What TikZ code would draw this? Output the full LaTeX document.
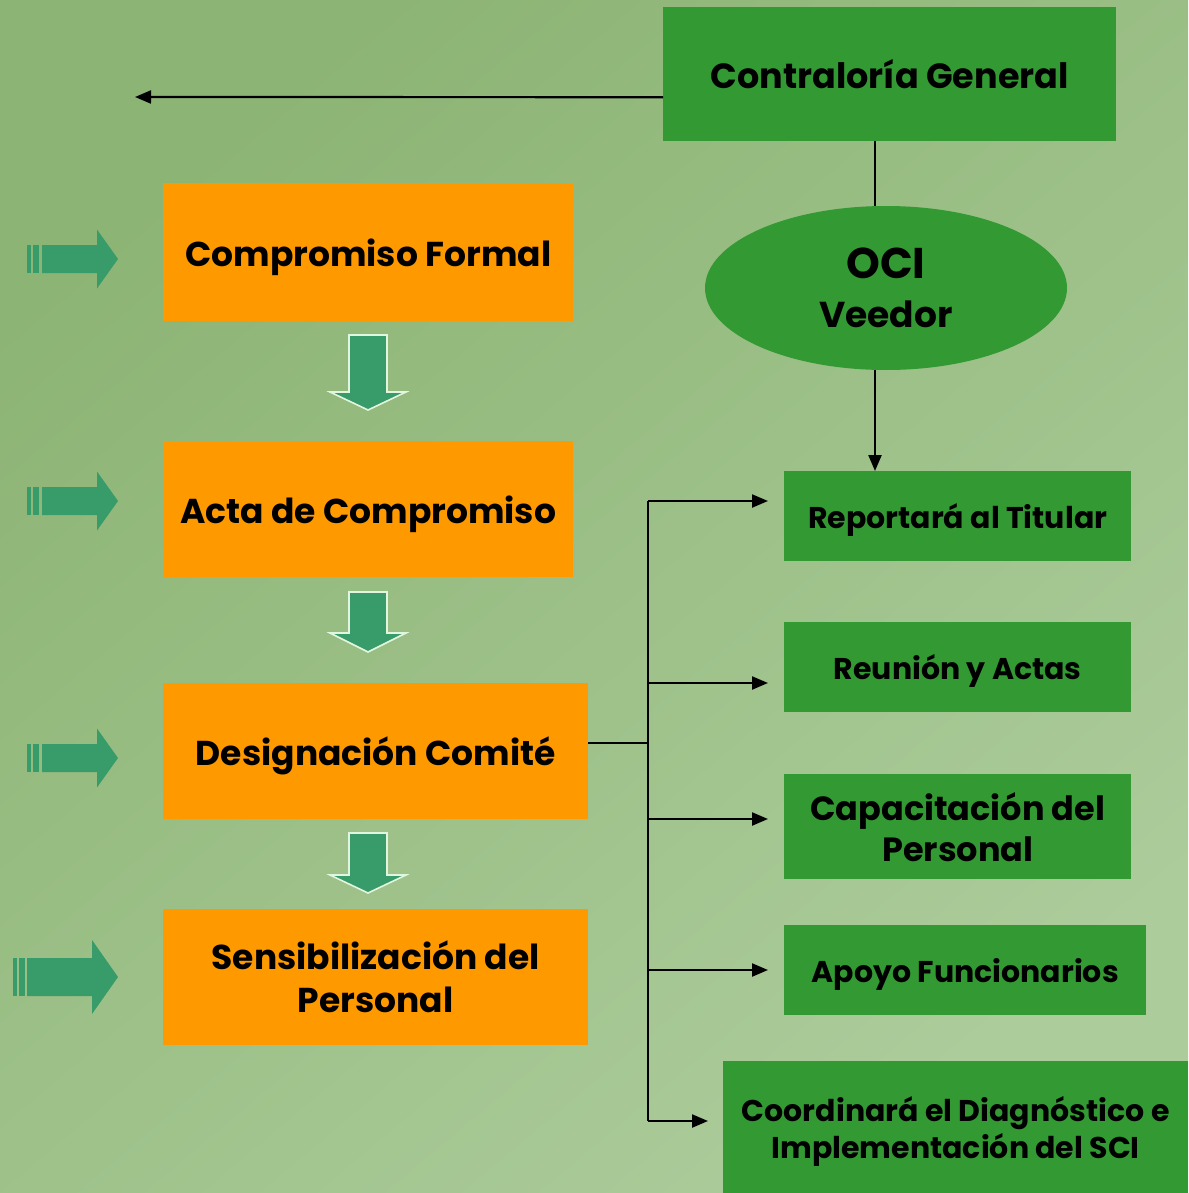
\documentclass[tikz,border=0pt]{standalone}
\usepackage{fontspec}
\setmainfont{Poppins}
\usetikzlibrary{arrows.meta,calc,shapes.geometric}
\definecolor{bgA}{HTML}{8CB474}
\definecolor{bgB}{HTML}{ACCC9B}
\definecolor{boxgreen}{HTML}{339933}
\definecolor{boxorange}{HTML}{FF9900}
\definecolor{arrgreen}{HTML}{379B6A}
\definecolor{arredge}{HTML}{E2F5DF}
\tikzset{
  stepbox/.style={fill=boxorange, draw=none, anchor=north west, align=center,
    font=\bfseries\fontsize{34.5}{43}\selectfont, inner sep=0pt},
  taskbox/.style={fill=boxgreen, draw=none, anchor=north west, align=center,
    font=\bfseries\fontsize{30}{38}\selectfont, inner sep=0pt},
  oneline/.style={text depth=0pt},
  link/.style={draw=black, line width=2.2pt},
  arr/.style={link, -{Triangle[length=16pt,width=13pt]}},
  downarr/.style={fill=arrgreen, draw=arredge, line width=1.6pt, line join=miter},
  sidearr/.style={fill=arrgreen, draw=none}
}
% horizontal striped arrow: #1 y centre, #2 stripe-1 x, #3 body x, #4 head x, #5 half body, #6 half head
\newcommand{\stripedarrow}[6]{%
  \fill[sidearr] (#2,#1-#5) rectangle ++(4,2*#5);
  \fill[sidearr] (#2+6,#1-#5) rectangle ++(6,2*#5);
  \fill[sidearr] (#3,#1-#5) -- (#4,#1-#5) -- (#4,#1-#6) -- (118,#1) -- (#4,#1+#6) -- (#4,#1+#5) -- (#3,#1+#5) -- cycle;}
% block arrow pointing down: #1 top y, #2 head start y, #3 tip y
\newcommand{\blockdown}[3]{%
  \filldraw[downarr] (349,#1) -- (387,#1) -- (387,#2) -- (406,#2) -- (368,#3) -- (330,#2) -- (349,#2) -- cycle;}
\begin{document}
\begin{tikzpicture}[x=1pt,y=-1pt]
  \useasboundingbox (0,0) rectangle (1188,1193);
  \shade[top color=bgA, bottom color=bgB, shading angle=40] (0,0) rectangle (1188,1193);

  % top of the hierarchy
  \node[taskbox, oneline, minimum width=453pt, minimum height=134pt, font=\bfseries\fontsize{35}{42}\selectfont] (cg) at (663,7) {Contraloría General};
  \node[ellipse, fill=boxgreen, minimum width=362pt, minimum height=164pt, inner sep=0pt, align=center,
        font=\bfseries\fontsize{36}{49}\selectfont] (oci) at (886,288)
    {{\fontsize{43}{49}\selectfont OCI}\\Veedor};
  \coordinate (leftend) at (135,97);

  % sequence of steps
  \node[stepbox, oneline, minimum width=410pt, minimum height=138pt] (cf) at (163,183) {Compromiso Formal};
  \node[stepbox, oneline, minimum width=410pt, minimum height=136pt] (ac) at (163,441) {Acta de Compromiso};
  \node[stepbox, oneline, minimum width=425pt, minimum height=136pt] (dc) at (163,683) {Designación Comité};
  \node[stepbox, minimum width=425pt, minimum height=136pt] (sp) at (163,909) {Sensibilización del\\Personal};

  % committee tasks
  \node[taskbox, oneline, minimum width=347pt, minimum height=90pt] (rt) at (784,471) {Reportará al Titular};
  \node[taskbox, oneline, minimum width=347pt, minimum height=90pt] (ra) at (784,622) {Reunión y Actas};
  \node[taskbox, minimum width=347pt, minimum height=105pt, font=\bfseries\fontsize{33.5}{41}\selectfont] (cp) at (784,774) {Capacitación del\\Personal};
  \node[taskbox, oneline, minimum width=362pt, minimum height=90pt] (af) at (784,925) {Apoyo Funcionarios};
  \node[taskbox, oneline, minimum width=465pt, minimum height=132pt, font=\bfseries\fontsize{30}{37}\selectfont] (cd) at (723,1061) {Coordinará el Diagnóstico e\\Implementación del SCI};

  % connectors
  \draw[arr] ([yshift=-23pt]cg.west) -- (leftend);
  \draw[link] (cg.south -| 875,0) -- (oci.north -| 875,0);
  \draw[arr] (oci.south -| 875,0) -- (rt.north -| 875,0);

  \coordinate (b1) at (648,501);
  \coordinate (b2) at (648,683);
  \coordinate (b3) at (648,819);
  \coordinate (b4) at (648,970);
  \coordinate (b5) at (648,1121);
  \draw[link] (dc.east |- 0,743) -- (648,743);
  \draw[link] (b1) -- (b5);
  \draw[arr] (b1) -- ([xshift=-16pt]rt.west |- b1);
  \draw[arr] (b2) -- ([xshift=-16pt]ra.west |- b2);
  \draw[arr] (b3) -- ([xshift=-16pt]cp.west |- b3);
  \draw[arr] (b4) -- ([xshift=-16pt]af.west |- b4);
  \draw[arr] (b5) -- ([xshift=-15pt]cd.west |- b5);

  % block arrows between steps
  \blockdown{335}{392}{410}
  \blockdown{592}{633}{652}
  \blockdown{833}{875}{893}

  % striped arrows pointing at the steps
  \stripedarrow{259}{27}{42}{97}{14}{29.5}
  \stripedarrow{501}{27}{42}{97}{14}{29.5}
  \stripedarrow{758}{27}{42}{97}{14}{29.5}
  \stripedarrow{977}{13}{27}{92}{19}{37}
\end{tikzpicture}
\end{document}
